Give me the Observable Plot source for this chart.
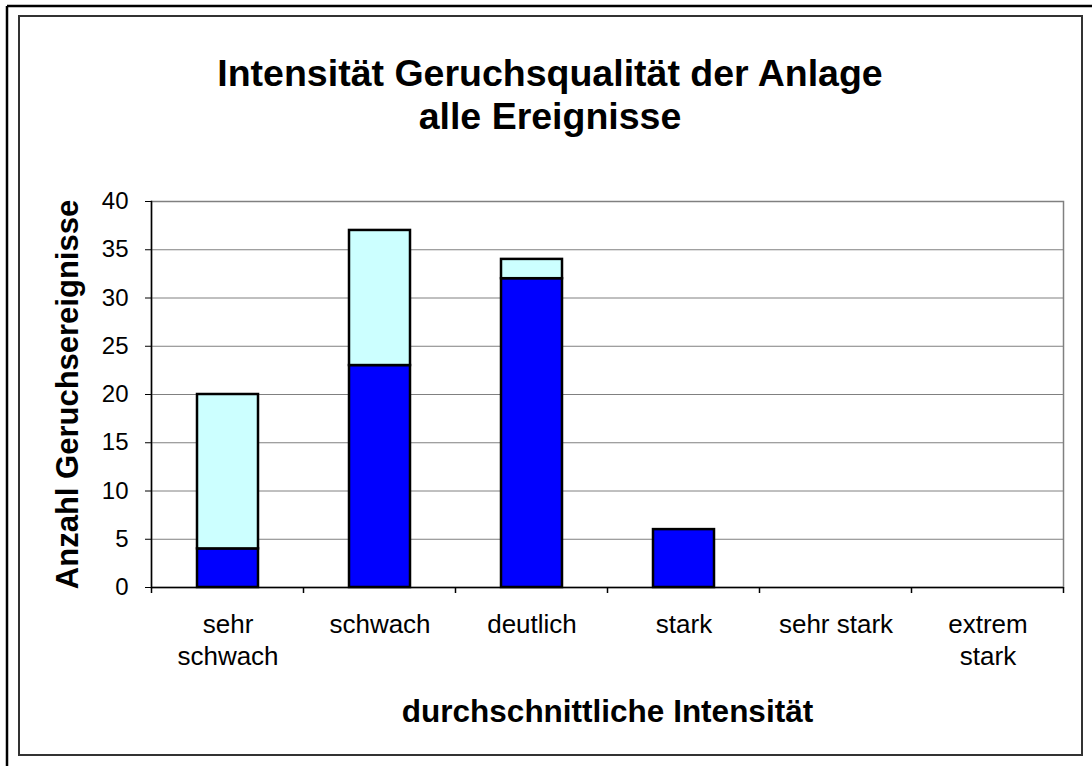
<!DOCTYPE html>
<html>
<head>
<meta charset="utf-8">
<script src="https://cdn.jsdelivr.net/npm/d3@7"></script>
<script src="https://cdn.jsdelivr.net/npm/@observablehq/plot@0.6"></script>
<style>
  html, body { margin: 0; padding: 0; background: #ffffff; }
  #chart { width: 1092px; height: 766px; }
</style>
</head>
<body>
<div id="chart"></div>
<script>
// ---- data ----
const categories = ["sehr schwach", "schwach", "deutlich", "stark", "sehr stark", "extrem stark"];
const tickLabels = ["sehr\nschwach", "schwach", "deutlich", "stark", "sehr stark", "extrem\nstark"];
const seriesNames = ["Reihe 1", "Reihe 2"];
const series1Values = [4, 23, 32, 6, 0, 0];   // dark blue (bottom)
const series2Values = [16, 14, 2, 0, 0, 0];   // light cyan (top)
const yTicks = [0, 5, 10, 15, 20, 25, 30, 35, 40];
const titleLines = ["Intensität Geruchsqualität der Anlage", "alle Ereignisse"];
const yTitle = "Anzahl Geruchsereignisse";
const xTitle = "durchschnittliche Intensität";

const rows = [];
categories.forEach((c, i) => {
  rows.push({category: c, series: seriesNames[0], value: series1Values[i]});
  rows.push({category: c, series: seriesNames[1], value: series2Values[i]});
});
const labelOf = new Map(categories.map((c, i) => [c, tickLabels[i]]));

const font = "'Liberation Sans', Arial, Helvetica, sans-serif";

const plot = Plot.plot({
  width: 1092,
  height: 766,
  marginLeft: 151,
  marginRight: 29,
  marginTop: 201,
  marginBottom: 179,
  style: {fontFamily: font, background: "#ffffff", color: "#000", overflow: "visible"},
  x: {domain: categories, paddingInner: 0.6, paddingOuter: 0.3},
  y: {domain: [0, 40]},
  color: {domain: seriesNames, range: ["#0000ff", "#ccffff"]},
  marks: [
    Plot.gridY(yTicks.filter(t => t > 0 && t < 40), {stroke: "#808080", strokeOpacity: 1, strokeWidth: 1}),
    Plot.frame({stroke: "#808080", strokeWidth: 1.5}),
    Plot.barY(rows, Plot.stackY({
      filter: d => d.value > 0,
      x: "category", y: "value", fill: "series",
      order: seriesNames,
      stroke: "#000", strokeWidth: 2.5
    })),
    Plot.frame({anchor: "left", stroke: "#000", strokeWidth: 1.5}),
    Plot.ruleY([0], {stroke: "#000", strokeWidth: 1.5}),
    Plot.axisY({ticks: yTicks, tickSize: 6, tickPadding: 17, label: null, fontSize: 24, stroke: "#000"}),
    Plot.axisX({tickSize: 0, tickPadding: 22, label: null, fontSize: 26, lineHeight: 1.25,
      tickFormat: d => labelOf.get(d)}),
    Plot.text([yTitle], {frameAnchor: "left", dx: -83, rotate: -90, fontSize: 31, fontWeight: "bold",
      textAnchor: "middle", lineAnchor: "middle", text: d => d}),
    Plot.text([xTitle], {frameAnchor: "bottom", dy: 124, fontSize: 31.5, fontWeight: "bold",
      textAnchor: "middle", lineAnchor: "middle", text: d => d})
  ]
});

const svg = d3.select(plot);
// category boundary ticks below the x axis
const sx = plot.scale("x");
const sy = plot.scale("y");
const y0 = sy.apply(0);
const gap = (sx.step - sx.bandwidth) / 2;
const bounds = categories.map(c => sx.apply(c) - gap);
bounds.push(sx.apply(categories[categories.length - 1]) + sx.bandwidth + gap);
svg.append("g").selectAll("line").data(bounds).join("line")
  .attr("x1", d => d).attr("x2", d => d)
  .attr("y1", y0).attr("y2", y0 + 6)
  .attr("stroke", "#000").attr("stroke-width", 1.5);

// title
const title = svg.append("g")
  .attr("font-family", font).attr("font-weight", "bold").attr("font-size", 37.5)
  .attr("text-anchor", "middle").attr("fill", "#000");
titleLines.forEach((t, i) => {
  title.append("text").attr("x", 550).attr("y", 86 + i * 43).text(t);
});

// chart borders
svg.insert("rect", ":first-child")
  .attr("x", 19).attr("y", 16).attr("width", 1063).attr("height", 739)
  .attr("fill", "none").attr("stroke", "#333").attr("stroke-width", 2);
svg.append("line").attr("x1", 7).attr("x2", 1092).attr("y1", 6).attr("y2", 6)
  .attr("stroke", "#000").attr("stroke-width", 2.5);
svg.append("line").attr("x1", 7).attr("x2", 7).attr("y1", 6).attr("y2", 766)
  .attr("stroke", "#000").attr("stroke-width", 2.5);

document.getElementById("chart").appendChild(plot);
</script>
</body>
</html>
